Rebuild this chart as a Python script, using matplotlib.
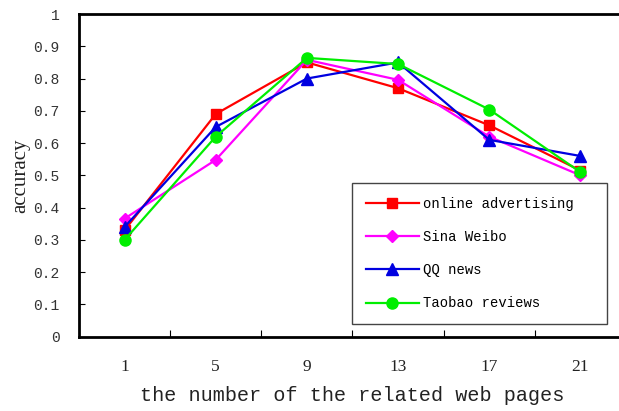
import matplotlib
matplotlib.use("Agg")
import matplotlib.pyplot as plt
from matplotlib.ticker import FixedLocator

# pages (categories) and accuracy per source
pages = ['1', '5', '9', '13', '17', '21']
online_adv = [0.33, 0.69, 0.85, 0.77, 0.655, 0.515]
sina_weibo = [0.366, 0.548, 0.858, 0.796, 0.62, 0.50]
qq_news = [0.34, 0.65, 0.80, 0.85, 0.61, 0.56]
taobao = [0.30, 0.62, 0.864, 0.845, 0.704, 0.51]

mono = 'Liberation Mono'
serif = 'Liberation Serif'

fig = plt.figure(figsize=(6.19, 4.11), dpi=100)
# axes runs past the right edge like the cropped original
ax = fig.add_axes([79/619, 74.3/411, 547/619, 322.7/411])

x = list(range(len(pages)))
ax.plot(x, online_adv, color='#ff0000', lw=1.6, marker='s', ms=7.5, label='online advertising')
ax.plot(x, sina_weibo, color='#ff00ff', lw=1.6, marker='D', ms=6.5, label='Sina Weibo')
ax.plot(x, qq_news, color='#0000e0', lw=1.6, marker='^', ms=8.5, label='QQ news')
ax.plot(x, taobao, color='#00ee00', lw=1.6, marker='o', ms=8, label='Taobao reviews')

ax.set_xlim(-0.5, 5.5)
ax.set_ylim(0, 1)
ax.set_xticks(x)
ax.set_xticklabels(pages, fontfamily=serif, fontsize=12.5)
ax.xaxis.set_minor_locator(FixedLocator([0.5, 1.5, 2.5, 3.5, 4.5]))
ax.tick_params(axis='x', which='major', length=0, pad=16)
ax.tick_params(axis='x', which='minor', direction='in', length=5, width=0.8)
ax.set_yticks([i / 10 for i in range(11)])
ax.set_yticklabels(['0'] + ['0.%d' % i for i in range(1, 10)] + ['1'], fontfamily=mono, fontsize=10.5)
ax.tick_params(axis='y', direction='in', length=4, width=0.8, pad=14)
for lab in ax.get_yticklabels():
    lab.set_color('#333333')
for lab in ax.get_xticklabels():
    lab.set_color('#222222')

for s in ['left', 'bottom', 'top', 'right']:
    ax.spines[s].set_linewidth(2)
    ax.spines[s].set_color('black')

ax.set_xlabel('the number of the related web pages', fontfamily=mono, fontsize=14.5, labelpad=8, color='#222222')
ax.set_ylabel('accuracy', fontfamily=serif, fontsize=15, labelpad=2, color='#222222')

leg = ax.legend(loc='upper left', bbox_to_anchor=(352/619, 1 - 183/411, 255/619, 0),
                bbox_transform=fig.transFigure, mode='expand',
                prop={'family': mono, 'size': 10}, handlelength=3.8, handletextpad=0.3,
                labelspacing=1.38, borderpad=1.0, borderaxespad=0, fancybox=False,
                framealpha=1, edgecolor='#444444')
leg.get_frame().set_linewidth(1)

fig.savefig('out.png', dpi=100)
